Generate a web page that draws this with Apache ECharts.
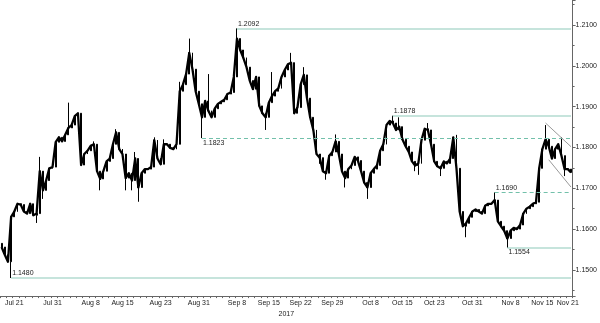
<!DOCTYPE html>
<html><head><meta charset="utf-8">
<script src="https://cdn.jsdelivr.net/npm/echarts@6/dist/echarts.min.js"></script>
<style>html,body{margin:0;padding:0;background:#fff}#c{width:600px;height:323px}</style>
</head><body><div id="c"></div>
<script>
// ---- data (EUR/USD, half-day sessions) ----
const firstOpen = 1.1565;
const closes = [
1.1556,1.1537,1.1520,1.1630,1.1643,1.1662,1.1660,1.1643,1.1638,1.1662,
1.1634,1.1638,1.1742,1.1695,1.1719,1.1749,1.1752,1.1813,1.1825,1.1815,
1.1831,1.1848,1.1855,1.1877,1.1884,1.1757,1.1784,1.1792,1.1804,1.1808,
1.1742,1.1723,1.1742,1.1766,1.1773,1.1808,1.1837,1.1796,1.1784,1.1725,
1.1737,1.1719,1.1773,1.1702,1.1737,1.1747,1.1747,1.1752,1.1818,1.1773,
1.1759,1.1808,1.1808,1.1799,1.1796,1.1808,1.1938,1.1954,1.1980,1.2032,
1.1992,1.1938,1.1907,1.1874,1.1914,1.1890,1.1874,1.1895,1.1907,1.1912,
1.1917,1.1931,1.1935,1.1973,1.2067,1.2039,1.2020,1.1997,1.1964,1.1943,
1.1973,1.1902,1.1884,1.1874,1.1910,1.1926,1.1938,1.1945,1.1973,1.1990,
1.2004,1.2008,1.1884,1.1898,1.1954,1.1978,1.1921,1.1874,1.1843,1.1784,
1.1775,1.1742,1.1737,1.1780,1.1789,1.1815,1.1784,1.1742,1.1725,1.1747,
1.1756,1.1777,1.1768,1.1742,1.1714,1.1702,1.1737,1.1747,1.1756,1.1792,
1.1808,1.1855,1.1865,1.1860,1.1843,1.1851,1.1820,1.1803,1.1789,1.1766,
1.1756,1.1761,1.1818,1.1846,1.1843,1.1808,1.1766,1.1754,1.1749,1.1766,
1.1761,1.1773,1.1825,1.1749,1.1643,1.1607,1.1614,1.1629,1.1643,1.1648,
1.1643,1.1638,1.1657,1.1662,1.1662,1.1671,1.1619,1.1607,1.1596,1.1577,
1.1596,1.1603,1.1600,1.1610,1.1638,1.1650,1.1655,1.1662,1.1666,1.1749,
1.1796,1.1820,1.1803,1.1773,1.1796,1.1808,1.1780,1.1747,1.1747,1.1739
];
// wick extremes: [session index, price]
const highSpikes = [[12,1.1777],[21,1.1910],[29,1.1815],[36,1.1845],[42,1.1789],[48,1.1825],
  [51,1.1820],[56,1.1961],[59,1.2067],[65,1.1980],[74,1.2092],[85,1.1985],[91,1.2032],
  [95,1.1997],[105,1.1832],[123,1.1878],[125,1.1874],[134,1.1860],[143,1.1831],[155,1.1690],
  [171,1.1855],[176,1.1825]];
const lowSpikes = [[3,1.1480],[11,1.1615],[13,1.1674],[31,1.1695],[39,1.1695],[41,1.1695],
  [43,1.1667],[63,1.1823],[83,1.1843],[100,1.1760],[102,1.1721],[108,1.1702],[115,1.1674],
  [130,1.1742],[131,1.1733],[138,1.1730],[146,1.1580],[159,1.1554],[177,1.1730]];
// horizontal support / resistance levels
const levelValues = [1.2092, 1.1823, 1.1878, 1.1690, 1.1554, 1.1480];
// trend lines: [[startSession, price],[endSession, price]]
const trendLines = [
  [[171, 1.1860], [179, 1.1802]],
  [[172, 1.1770], [179, 1.1703]]
];
const tickLabels = ['Jul 21','Jul 31','Aug 8','Aug 15','Aug 23','Aug 31','Sep 8','Sep 15','Sep 22','Sep 29','Oct 8','Oct 15','Oct 23','Oct 31','Nov 8','Nov 15','Nov 21'];
const tickDays = ['2017-07-21','2017-07-31','2017-08-08','2017-08-15','2017-08-23','2017-08-31','2017-09-08','2017-09-15','2017-09-22','2017-09-29','2017-10-09','2017-10-16','2017-10-23','2017-10-31','2017-11-08','2017-11-15','2017-11-21'];
const yearLabel = '2017';

// ---- styles ----
const levelStyle = [
  {dashed:false, below:false}, {dashed:true, below:true}, {dashed:false, below:false},
  {dashed:true, below:false}, {dashed:false, below:true}, {dashed:false, below:false}
];
const FONT = '"Liberation Sans Narrow","Liberation Sans",Arial,sans-serif';

// ---- build ----
const days = [];
(function(){ let t = Date.UTC(2017,6,19); const end = Date.UTC(2017,10,21);
  while (t <= end) { const d = new Date(t); const wd = d.getUTCDay();
    if (wd !== 0 && wd !== 6) days.push(d.toISOString().slice(0,10)); t += 86400000; } })();
const categories = [];
days.forEach(d => { categories.push(d + ' AM'); categories.push(d + ' PM'); });
const tickMap = {};
tickDays.forEach((d,i) => { tickMap[d + ' AM'] = tickLabels[i]; });

const hiMap = {}, loMap = {};
highSpikes.forEach(([i,v]) => hiMap[i] = v);
lowSpikes.forEach(([i,v]) => loMap[i] = v);
const ohlc = closes.map((c,i) => {
  const o = i === 0 ? firstOpen : closes[i-1];
  let h = Math.max(o,c), l = Math.min(o,c);
  if (hiMap[i] != null) h = Math.max(h, hiMap[i]);
  if (loMap[i] != null) l = Math.min(l, loMap[i]);
  return [o, c, l, h];
});
const last = closes.length - 1;

const markData = levelValues.map((v, k) => {
  const idx = ohlc.findIndex(d => Math.abs(d[2]-v) < 1e-9 || Math.abs(d[3]-v) < 1e-9);
  const st = levelStyle[k];
  return [
    { coord: [idx, v],
      lineStyle: st.dashed ? {color:'#72c0aa', width:1, type:[4,3]} : {color:'#b3dbd0', width:1.5, type:'solid'},
      label: { show:true, position: st.below ? 'insideStartBottom' : 'insideStartTop',
        formatter: v.toFixed(4), fontSize:7, color:'#222', fontFamily:FONT, distance:1 } },
    { coord: [last, v] }
  ];
});
trendLines.forEach(t => {
  markData.push([
    { coord: t[0], lineStyle:{color:'#9a9a9a', width:1, type:'solid'}, label:{show:false} },
    { coord: t[1] }
  ]);
});
markData.push([
  { coord: [0, closes[last]], lineStyle:{opacity:0},
    label:{show:true, position:'end', formatter: closes[last].toFixed(4), fontSize:7, fontFamily:FONT,
      color:'#fff', backgroundColor:'#111', padding:[1,2,1,2], borderRadius:1, distance:1} },
  { coord: [last, closes[last]] }
]);

const chart = echarts.init(document.getElementById('c'), null, {renderer:'canvas'});
chart.setOption({
  animation: false,
  backgroundColor: '#fff',
  grid: { left: 0, right: 22, top: 0, bottom: 15 },
  xAxis: {
    type: 'category', data: categories, boundaryGap: true,
    axisLine: { lineStyle: { color: '#666', width: 1 } },
    axisTick: { show: true, length: 2, interval: (i) => i % 2 === 0, lineStyle:{color:'#666'} },
    axisLabel: { interval: (i, v) => tickMap[v] !== undefined, formatter: (v) => tickMap[v] || '',
      fontSize: 7, color: '#222', fontFamily: FONT, margin: 3 },
    splitLine: { show: false },
    name: yearLabel, nameLocation: 'middle', nameGap: 10,
    nameTextStyle: { fontSize: 7, color: '#222', fontFamily: FONT }
  },
  yAxis: {
    type: 'value', position: 'right', min: 1.14357, max: 1.21616, scale: true,
    minInterval: 0.01, maxInterval: 0.01,
    axisLine: { show: true, lineStyle: { color: '#666' } },
    axisTick: { show: true, length: 3, lineStyle:{color:'#666'} },
    minorTick: { show: true, splitNumber: 2, length: 2, lineStyle:{color:'#666'} },
    axisLabel: { formatter: (v) => v.toFixed(4), fontSize: 7, color: '#222', fontFamily: FONT,
      margin: 3, showMinLabel: false, showMaxLabel: false },
    splitLine: { show: false }
  },
  series: [{
    type: 'line', data: closes, symbol: 'none', z: 2,
    lineStyle: { color: '#000', width: 2.3, join: 'round' }
  }, {
    type: 'candlestick', data: ohlc, barWidth: 1.4, z: 3,
    itemStyle: { color:'#000', color0:'#000', borderColor:'#000', borderColor0:'#000', borderWidth:1 },
    markLine: { silent: true, symbol: ['none','none'], animation:false, data: markData }
  }]
});
</script></body></html>
